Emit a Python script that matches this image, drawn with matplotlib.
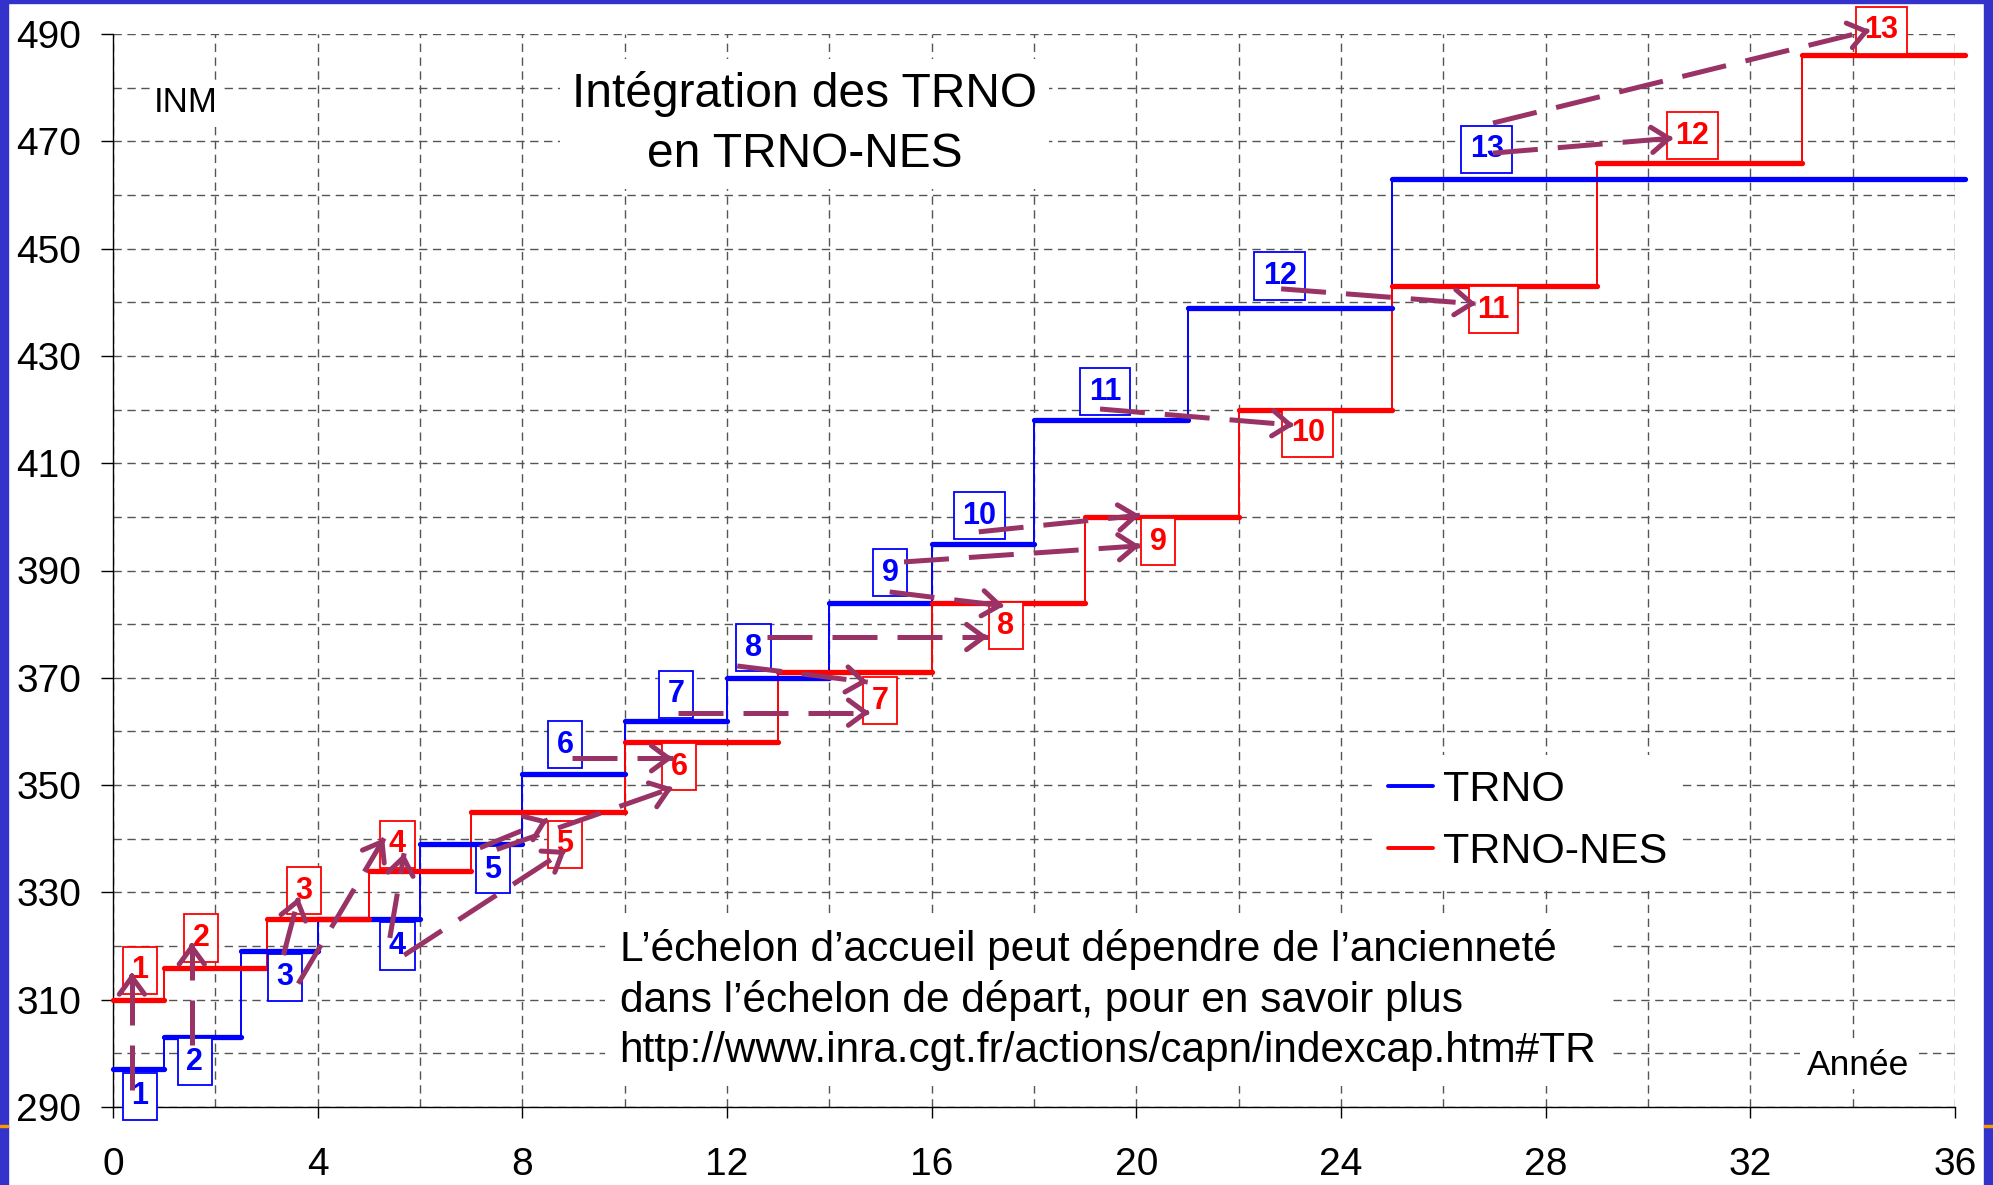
import matplotlib
matplotlib.use('Agg')
import matplotlib.pyplot as plt
from matplotlib.lines import Line2D
from matplotlib.patches import FancyArrowPatch, Rectangle
from matplotlib.ticker import MultipleLocator
import numpy as np

plt.rcParams['font.family'] = ['Liberation Sans', 'DejaVu Sans']

# ---------------- data ----------------
trno_start = [0, 1, 2.5, 4, 6, 8, 10, 12, 14, 16, 18, 21, 25]
trno_inm = [297, 303, 319, 325, 339, 352, 362, 370, 384, 395, 418, 439, 463]
nes_start = [0, 1, 3, 5, 7, 10, 13, 16, 19, 22, 25, 29, 33]
nes_inm = [310, 316, 325, 334, 345, 358, 371, 384, 400, 420, 443, 466, 486]
x_end = 36.2

echelons = [str(i) for i in range(1, 14)]
trno_lbl_x = [0.53, 1.60, 3.36, 5.56, 7.42, 8.84, 11.0, 12.52, 15.19, 16.93, 19.39, 22.8, 26.85]
trno_lbl_y = [292.0, 298.4, 314.2, 320.0, 334.2, 357.5, 366.9, 375.6, 389.6, 400.2, 423.3, 444.9, 468.5]
nes_lbl_x = [0.53, 1.72, 3.73, 5.56, 8.83, 11.06, 14.99, 17.45, 20.43, 23.35, 26.98, 30.87, 34.56]
nes_lbl_y = [315.5, 321.5, 330.3, 339.0, 339.0, 353.4, 365.7, 379.7, 395.4, 415.6, 438.6, 471.0, 490.7]

arrow_x0 = [0.37, 1.54, 3.33, 3.62, 5.41, 5.69, 7.17, 7.50, 8.97, 11.04, 12.20, 12.78, 15.18, 15.46, 16.92, 19.29, 22.83, 26.97, 26.97]
arrow_y0 = [293.2, 301.6, 318.3, 313.0, 321.5, 318.3, 338.3, 338.0, 355.0, 363.5, 372.2, 377.6, 386.0, 391.6, 397.2, 420.1, 442.5, 467.8, 473.4]
arrow_x1 = [0.37, 1.54, 3.63, 5.30, 5.69, 8.85, 8.50, 10.94, 10.94, 14.79, 14.75, 17.10, 17.41, 20.07, 20.07, 23.08, 26.64, 30.49, 34.34]
arrow_y1 = [315.0, 320.6, 329.1, 340.1, 337.3, 337.9, 343.5, 349.5, 355.0, 363.5, 369.2, 377.6, 383.4, 394.6, 400.3, 417.1, 439.7, 470.6, 490.7]

x_ticks = list(range(0, 37, 4))
y_ticks = list(range(290, 491, 20))

BLUE = '#0000FF'
RED = '#FF0000'
PLUM = '#993366'

# ---------------- figure ----------------
W, H = 1993, 1185
fig = plt.figure(figsize=(W / 100, H / 100), dpi=100)
fig.patch.set_facecolor('white')
ax = fig.add_axes([113 / W, 78 / H, 1842 / W, 1073 / H])
ax.set_xlim(0, 36)
ax.set_ylim(290, 490)

# grid
ax.xaxis.set_minor_locator(MultipleLocator(2))
ax.yaxis.set_minor_locator(MultipleLocator(10))
ax.set_xticks(x_ticks)
ax.set_yticks(y_ticks)
ax.grid(True, which='both', color='#555555', lw=1.0, ls=(0, (6, 4)), zorder=0)
ax.set_axisbelow(True)
ax.tick_params(which='minor', length=0)
ax.tick_params(axis='x', which='major', direction='out', length=8, width=1, pad=21, labelsize=28)
ax.tick_params(axis='y', which='major', direction='out', length=9, width=1, pad=14, labelsize=28)
for s in ['top', 'right']:
    ax.spines[s].set_visible(False)
for s in ['left', 'bottom']:
    ax.spines[s].set_color('black')
    ax.spines[s].set_linewidth(1.0)
    ax.spines[s].set_zorder(2)


def steps(starts, vals, color):
    n = len(starts)
    for i in range(n):
        x1 = starts[i + 1] if i + 1 < n else x_end
        ax.plot([starts[i], x1], [vals[i], vals[i]], color=color, lw=3.8,
                solid_capstyle='round', zorder=4, clip_on=False)
        if i + 1 < n:
            ax.plot([x1, x1], [vals[i], vals[i + 1]], color=color, lw=1.4, zorder=3)


steps(trno_start, trno_inm, BLUE)
steps(nes_start, nes_inm, RED)

# number boxes
for lab, x, y in zip(echelons, trno_lbl_x, trno_lbl_y):
    ax.text(x, y, lab, color=BLUE, fontsize=22, fontweight='bold', ha='center', va='center',
            zorder=5, clip_on=False,
            bbox=dict(boxstyle='square,pad=0.28', fc='white', ec=BLUE, lw=1.3))
for lab, x, y in zip(echelons, nes_lbl_x, nes_lbl_y):
    ax.text(x, y, lab, color=RED, fontsize=22, fontweight='bold', ha='center', va='center',
            zorder=5, clip_on=False,
            bbox=dict(boxstyle='square,pad=0.28', fc='white', ec=RED, lw=1.3))

# arrows
inv = ax.transData.inverted()
for x0, y0, x1, y1 in zip(arrow_x0, arrow_y0, arrow_x1, arrow_y1):
    ax.plot([x0, x1], [y0, y1], color=PLUM, lw=3.6, ls=(0, (9, 4)),
            dash_capstyle='butt', zorder=6, clip_on=False)
    p0 = ax.transData.transform((x0, y0))
    p1 = ax.transData.transform((x1, y1))
    d = (p1 - p0) / np.linalg.norm(p1 - p0)
    pa = inv.transform(p1 - d * 4)
    ax.add_patch(FancyArrowPatch(posA=tuple(pa), posB=(x1, y1),
                                 arrowstyle='->,head_length=0.95,head_width=0.7',
                                 mutation_scale=13, lw=3.6, color=PLUM,
                                 shrinkA=0, shrinkB=0, zorder=6, clip_on=False))

# texts
ax.text(13.52, 473.2, 'Intégration des TRNO\nen TRNO-NES', fontsize=34.5, ha='center',
        va='center', linespacing=1.44, zorder=2,
        bbox=dict(boxstyle='square,pad=0.25', fc='white', ec='none'))
ax.text(1.43, 477.2, 'INM', fontsize=25, ha='center', va='center', zorder=2,
        bbox=dict(boxstyle='square,pad=0.1', fc='white', ec='none'))
ax.text(34.1, 297.8, 'Année', fontsize=25.5, ha='center', va='center', zorder=2,
        bbox=dict(boxstyle='square,pad=0.2', fc='white', ec='none'))
ax.text(9.9, 310.0,
        'L’échelon d’accueil peut dépendre de l’ancienneté\n'
        'dans l’échelon de départ, pour en savoir plus\n'
        'http://www.inra.cgt.fr/actions/capn/indexcap.htm#TR',
        fontsize=30.5, ha='left', va='center', linespacing=1.32, zorder=2,
        bbox=dict(boxstyle='square,pad=0.35', fc='white', ec='none'))

# legend
handles = [Line2D([0], [0], color=BLUE, lw=2.8, solid_capstyle='round'),
           Line2D([0], [0], color=RED, lw=2.8, solid_capstyle='round')]
leg = ax.legend(handles, ['TRNO', 'TRNO-NES'], loc='upper left',
                bbox_to_anchor=((1373 - 113) / 1842, (1107 - 755) / 1073),
                frameon=True, fancybox=False, facecolor='white', edgecolor='none',
                framealpha=1, fontsize=31, handlelength=1.05, handletextpad=0.22,
                labelspacing=0.5, borderpad=0.35, borderaxespad=0)
leg.set_zorder(2)

# slide border
fig.patches.append(Rectangle((0, 0), 8 / W, 1, transform=fig.transFigure, color='#3333CC', zorder=10))
fig.patches.append(Rectangle((0, 1 - 3 / H), 1, 3 / H, transform=fig.transFigure, color='#3333CC', zorder=10))
fig.patches.append(Rectangle((1 - 9 / W, 0), 9 / W, 1, transform=fig.transFigure, color='#3333CC', zorder=10))
fig.patches.append(Rectangle((0, 58 / H), 8 / W, 2 / H, transform=fig.transFigure, color='#FF9900', zorder=11))
fig.patches.append(Rectangle((1 - 9 / W, 58 / H), 9 / W, 2 / H, transform=fig.transFigure, color='#FF9900', zorder=11))

fig.savefig('out.png', dpi=100, facecolor='white')
